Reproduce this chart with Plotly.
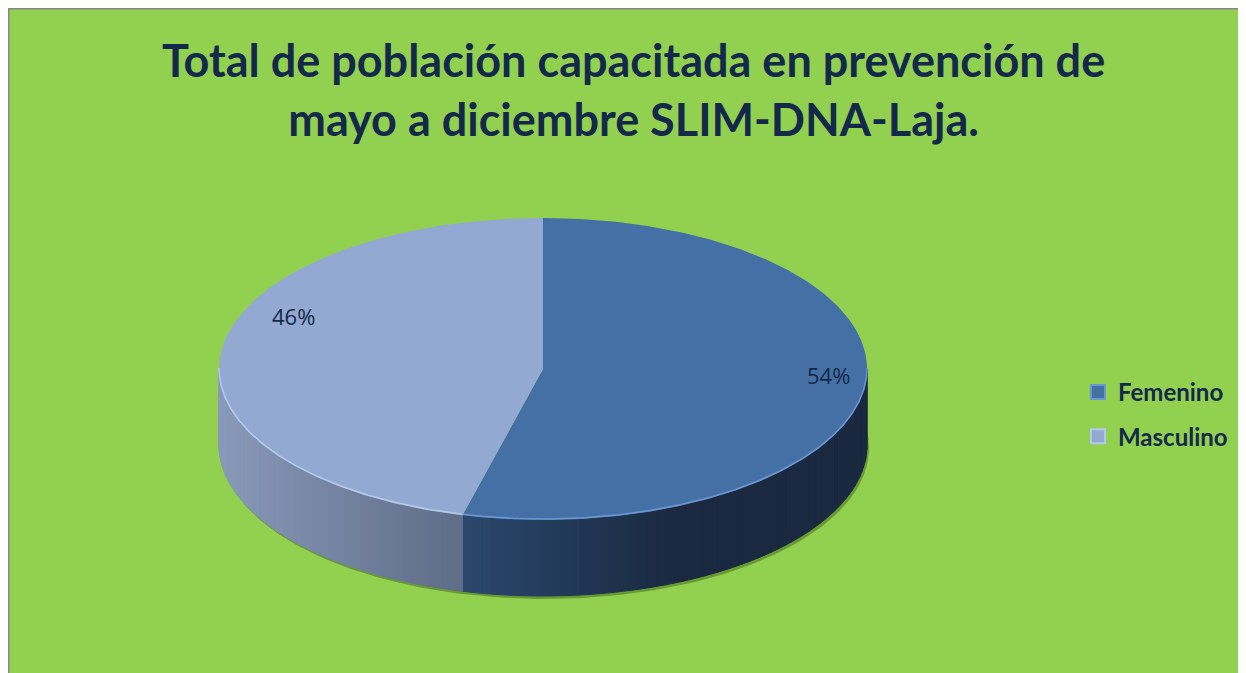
import numpy as np
import plotly.graph_objects as go

# ---- data ----
categories = ["Femenino", "Masculino"]
values = [54, 46]
label_texts = ["54%", "46%"]
title_text = "Total de población capacitada en prevención de<br>mayo a diciembre SLIM-DNA-Laja."

# ---- styling ----
W, H = 1246, 673
OFF = 8  # page body margin
top_colors = ["#4470A6", "#93A9D1"]
edge_colors = ["#6A96D2", "#B4C9EE"]
side_left = [(44, 74, 112), (138, 154, 186)]
side_right = [(26, 41, 64), (96, 110, 138)]
text_color = "#13284A"
green = "#92D050"

cx, cy, rx, ry, depth = 543, 369, 324, 151, 76


def pt(theta_deg, dy=0.0):
    t = np.radians(theta_deg)
    return cx + rx * np.sin(t), cy - ry * np.cos(t) + dy


fig = go.Figure()

# slice angles from data
total = sum(values)
bounds = []
acc = 0.0
for v in values:
    a0 = acc / total * 360
    acc += v
    a1 = acc / total * 360
    bounds.append((a0, a1))

# shadow under the pie
ts = np.linspace(60, 300, 200)
sx, sy = pt(ts, depth + 3)
sx2, sy2 = pt(ts[::-1], depth - 6)
fig.add_trace(go.Scatter(x=np.r_[sx + 2, sx2], y=np.r_[sy, sy2], fill="toself",
                         fillcolor="rgba(70,110,30,0.55)", line=dict(width=0),
                         mode="lines", hoverinfo="skip", showlegend=False))

# side walls with gradient strips
for i, (a0, a1) in enumerate(bounds):
    lo, hi = max(a0, 90), min(a1, 270)
    if lo >= hi:
        continue
    n = 60
    edges = np.linspace(lo, hi, n + 1)
    for k in range(n):
        t0, t1 = edges[k], edges[k + 1]
        tt = np.linspace(t0, t1, 5)
        x_top, y_top = pt(tt)
        x_bot, y_bot = pt(tt[::-1], depth)
        xm = (pt((t0 + t1) / 2)[0] - (cx - rx)) / (2 * rx)
        if i == 0:
            f = min(1.0, max(0.0, (xm - 0.36) / 0.35))
        else:
            f = min(1.0, max(0.0, xm / 0.36))
        c = "rgb(%d,%d,%d)" % tuple(int(side_left[i][j] + (side_right[i][j] - side_left[i][j]) * f)
                                    for j in range(3))
        fig.add_trace(go.Scatter(x=np.r_[x_top, x_bot, x_top[:1]], y=np.r_[y_top, y_bot, y_top[:1]],
                                 fill="toself", fillcolor=c, line=dict(width=1, color=c),
                                 mode="lines", hoverinfo="skip", showlegend=False))

# top faces
for i, (a0, a1) in enumerate(bounds):
    tt = np.linspace(a0, a1, 300)
    x, y = pt(tt)
    fig.add_trace(go.Scatter(x=np.r_[cx, x, cx], y=np.r_[cy, y, cy], fill="toself",
                             fillcolor=top_colors[i], line=dict(width=0),
                             mode="lines", hoverinfo="skip", showlegend=False))
    lo, hi = max(a0, 90), min(a1, 270)
    if lo < hi:
        te = np.linspace(lo, hi, 200)
        ex, ey = pt(te, -1)
        fig.add_trace(go.Scatter(x=ex, y=ey, mode="lines", line=dict(color=edge_colors[i], width=1.6),
                                 hoverinfo="skip", showlegend=False))

# legend entries
for i, name in enumerate(categories):
    fig.add_trace(go.Scatter(x=[None], y=[None], mode="markers", name=name, legendgroup=name,
                             marker=dict(symbol="square", size=14, color=top_colors[i],
                                         line=dict(color=edge_colors[i], width=2))))

# percentage labels
label_pos = [(828, 375), (293, 316)]
for txt, (lx, ly) in zip(label_texts, label_pos):
    fig.add_annotation(x=lx, y=ly, text=txt, showarrow=False, xref="x", yref="y",
                       font=dict(family="Open Sans, Noto Sans, sans-serif", size=22, color=text_color))

# title
fig.add_annotation(x=633, y=89, text=title_text, showarrow=False, xref="x", yref="y",
                   font=dict(family="Lato, sans-serif", size=45, color=text_color, weight="bold"),
                   align="center")

# background frame
fig.add_shape(type="rect", xref="x", yref="y", x0=8.5, y0=8.5, x1=W + 20, y1=H + 20,
              fillcolor=green, line=dict(color="#888888", width=2), layer="below")

fig.update_layout(
    width=W, height=H, margin=dict(l=0, r=0, t=0, b=0),
    paper_bgcolor="white", plot_bgcolor="white",
    xaxis=dict(range=[OFF, W + OFF], visible=False, fixedrange=True),
    yaxis=dict(range=[H + OFF, OFF], visible=False, fixedrange=True),
    showlegend=True,
    legend=dict(x=(1078 - OFF) / W, y=1 - (370 - OFF) / H, xanchor="left", yanchor="top",
                bgcolor="rgba(0,0,0,0)", tracegroupgap=10,
                font=dict(family="Lato, sans-serif", size=24, color=text_color, weight="bold")),
)

fig.write_html("out.html")
